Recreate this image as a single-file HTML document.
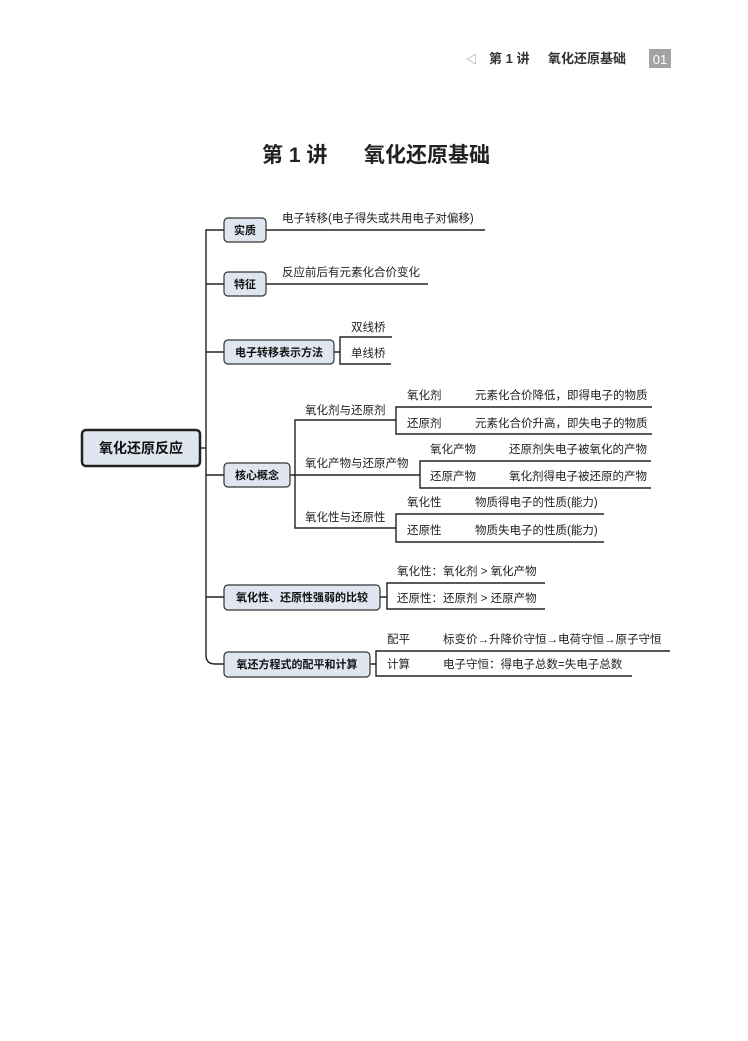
<!DOCTYPE html>
<html><head><meta charset="utf-8"><style>
body{margin:0;background:#fff;}
svg{display:block;font-family:"Liberation Sans","Noto Sans CJK SC",sans-serif;}
</style></head><body>
<svg width="748" height="1041" viewBox="0 0 748 1041" xmlns="http://www.w3.org/2000/svg">
<!-- header -->
<text x="466" y="63" font-size="11" fill="#888">◁</text>
<text x="489" y="63" font-size="13" font-weight="bold" fill="#333">第 1 讲</text>
<text x="548" y="63" font-size="13" font-weight="bold" fill="#333">氧化还原基础</text>
<rect x="649" y="49" width="22" height="19" fill="#a3a3a3"/>
<text x="660" y="64" font-size="13" fill="#fff" text-anchor="middle">01</text>
<!-- title -->
<text x="262" y="162" font-size="21" font-weight="bold" fill="#222">第 1 讲</text>
<text x="490" y="162" font-size="21" font-weight="bold" fill="#222" text-anchor="end">氧化还原基础</text>

<g stroke="#222" stroke-width="1.4" fill="none">
<path d="M200 448H206"/>
<path d="M224 230H206V655Q206 664 215 664H224"/>
<path d="M206 284H224M206 352H224M206 475H224M206 597H224"/>
<path d="M266 230H485M266 284H428"/>
<path d="M334 352H340M392 337H340V364H391"/>
<path d="M290 475H420M396 420H295V528H396M295 420V528"/>
<path d="M652 407H396V434H652"/>
<path d="M651 461H420V488H651"/>
<path d="M604 514H396V542H604"/>
<path d="M380 597H387M545 583H387V609H545"/>
<path d="M370 664H376M670 651H376V676H632"/>
</g>

<g fill="#dfe6f0" stroke="#333" stroke-width="1.2">
<rect x="224" y="218" width="42" height="24" rx="4"/>
<rect x="224" y="272" width="42" height="24" rx="4"/>
<rect x="224" y="340" width="110" height="24" rx="4"/>
<rect x="224" y="463" width="66" height="24" rx="4"/>
<rect x="224" y="585" width="156" height="25" rx="4"/>
<rect x="224" y="652" width="146" height="25" rx="4"/>
<rect x="82" y="430" width="118" height="36" rx="4" stroke="#222" stroke-width="2.5"/>
</g>

<g font-size="11" font-weight="bold" fill="#111" text-anchor="middle">
<text x="245" y="234">实质</text>
<text x="245" y="288">特征</text>
<text x="279" y="356">电子转移表示方法</text>
<text x="257" y="479">核心概念</text>
<text x="302" y="601">氧化性、还原性强弱的比较</text>
<text x="297" y="668">氧还方程式的配平和计算</text>
<text x="141" y="453" font-size="14">氧化还原反应</text>
</g>

<g font-size="11.5" fill="#222">
<text x="282" y="222">电子转移(电子得失或共用电子对偏移)</text>
<text x="282" y="276">反应前后有元素化合价变化</text>
<text x="351" y="331">双线桥</text>
<text x="351" y="357">单线桥</text>
<text x="305" y="414">氧化剂与还原剂</text>
<text x="407" y="399">氧化剂</text>
<text x="407" y="427">还原剂</text>
<text x="475" y="399">元素化合价降低，即得电子的物质</text>
<text x="475" y="427">元素化合价升高，即失电子的物质</text>
<text x="305" y="467">氧化产物与还原产物</text>
<text x="430" y="453">氧化产物</text>
<text x="430" y="480">还原产物</text>
<text x="509" y="453">还原剂失电子被氧化的产物</text>
<text x="509" y="480">氧化剂得电子被还原的产物</text>
<text x="305" y="521">氧化性与还原性</text>
<text x="407" y="506">氧化性</text>
<text x="407" y="534">还原性</text>
<text x="475" y="506">物质得电子的性质(能力)</text>
<text x="475" y="534">物质失电子的性质(能力)</text>
<text x="397" y="575">氧化性：氧化剂 &gt; 氧化产物</text>
<text x="397" y="602">还原性：还原剂 &gt; 还原产物</text>
<text x="387" y="643">配平</text>
<text x="387" y="668">计算</text>
<text x="443" y="643">标变价→升降价守恒→电荷守恒→原子守恒</text>
<text x="443" y="668">电子守恒：得电子总数=失电子总数</text>
</g>
</svg>
</body></html>
